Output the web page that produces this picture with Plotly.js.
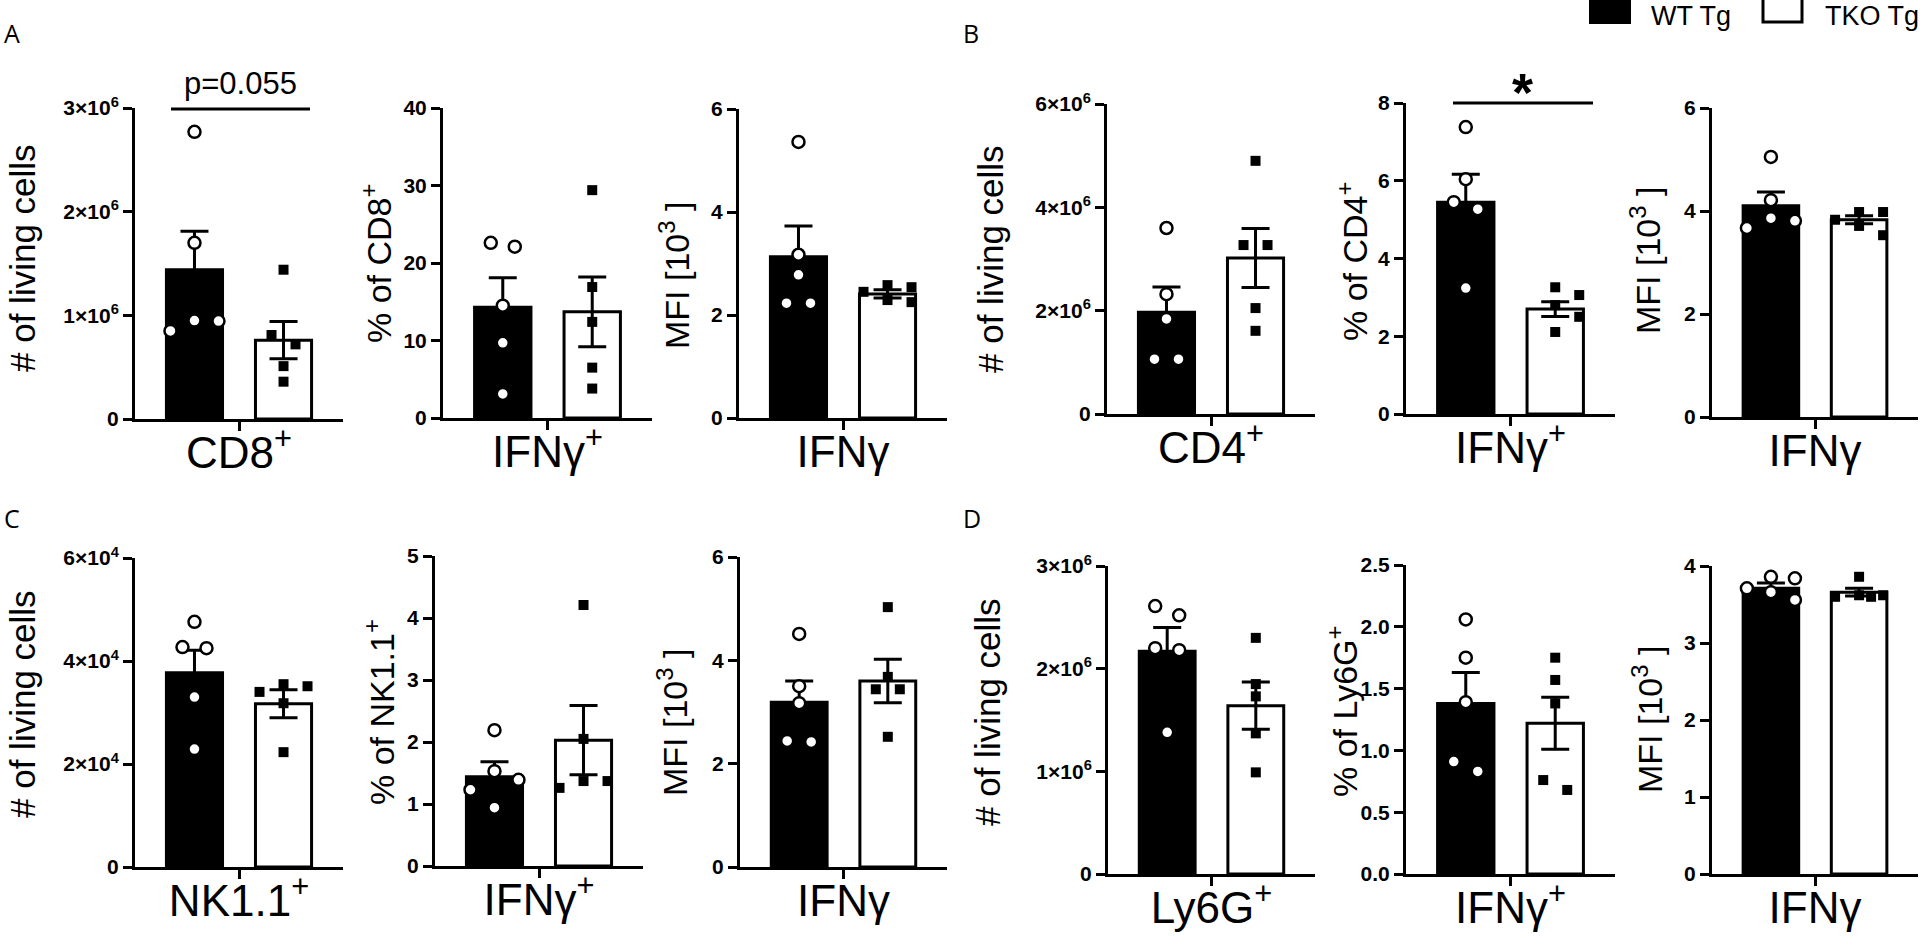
<!DOCTYPE html>
<html>
<head>
<meta charset="utf-8">
<script src="https://cdn.plot.ly/plotly-3.0.1.min.js"></script>
<style>
  html, body { margin: 0; padding: 0; background: #fff; }
  #plot { width: 1920px; height: 944px; }
</style>
</head>
<body>
<div id="plot"></div>
<script>
let W = 1920, H = 944;
let groups = ['WT Tg', 'TKO Tg'];

// ---- A: CD8+ ----
let cd8CellsWT = [2.77e6, 1.70e6, 0.95e6, 0.945e6, 0.85e6];
let cd8CellsTKO = [1.44e6, 0.81e6, 0.72e6, 0.51e6, 0.36e6];
let cd8CellsMean = [1.44e6, 0.76e6];
let cd8CellsSem = [0.37e6, 0.18e6];

let cd8IfnPctWT = [22.6, 22.1, 14.5, 9.7, 3.1];
let cd8IfnPctTKO = [29.4, 16.9, 12.4, 6.5, 3.8];
let cd8IfnPctMean = [14.3, 13.7];
let cd8IfnPctSem = [3.8, 4.5];

let cd8MfiWT = [5.36, 3.17, 2.78, 2.23, 2.23];
let cd8MfiTKO = [2.58, 2.54, 2.45, 2.29, 2.25];
let cd8MfiMean = [3.13, 2.41];
let cd8MfiSem = [0.6, 0.08];

// ---- B: CD4+ ----
let cd4CellsWT = [3.6e6, 2.32e6, 1.84e6, 1.06e6, 1.06e6];
let cd4CellsTKO = [4.9e6, 3.27e6, 3.27e6, 2.05e6, 1.61e6];
let cd4CellsMean = [1.97e6, 3.02e6];
let cd4CellsSem = [0.49e6, 0.57e6];

let cd4IfnPctWT = [7.38, 6.04, 5.45, 5.27, 3.24];
let cd4IfnPctTKO = [3.26, 3.06, 2.8, 2.5, 2.11];
let cd4IfnPctMean = [5.45, 2.7];
let cd4IfnPctSem = [0.72, 0.19];

let cd4MfiWT = [5.05, 4.21, 3.86, 3.81, 3.67];
let cd4MfiTKO = [3.98, 3.98, 3.83, 3.71, 3.53];
let cd4MfiMean = [4.1, 3.83];
let cd4MfiSem = [0.27, 0.08];

// ---- C: NK1.1+ ----
let nkCellsWT = [4.76e4, 4.27e4, 4.25e4, 3.3e4, 2.29e4];
let nkCellsTKO = [3.55e4, 3.51e4, 3.4e4, 3.18e4, 2.23e4];
let nkCellsMean = [3.77e4, 3.17e4];
let nkCellsSem = [0.44e4, 0.27e4];

let nkIfnPctWT = [2.19, 1.53, 1.39, 1.23, 0.94];
let nkIfnPctTKO = [4.21, 2.05, 1.37, 1.37, 1.26];
let nkIfnPctMean = [1.44, 2.03];
let nkIfnPctSem = [0.24, 0.56];

let nkMfiWT = [4.51, 3.5, 3.17, 2.44, 2.42];
let nkMfiTKO = [5.03, 3.68, 3.44, 3.44, 2.52];
let nkMfiMean = [3.19, 3.6];
let nkMfiSem = [0.41, 0.42];

// ---- D: Ly6G+ ----
let lyCellsWT = [2.61e6, 2.52e6, 2.2e6, 2.18e6, 1.38e6];
let lyCellsTKO = [2.3e6, 1.85e6, 1.73e6, 1.37e6, 0.99e6];
let lyCellsMean = [2.17e6, 1.64e6];
let lyCellsSem = [0.23e6, 0.23e6];

let lyIfnPctWT = [2.06, 1.75, 1.39, 0.91, 0.83];
let lyIfnPctTKO = [1.75, 1.57, 1.38, 0.76, 0.68];
let lyIfnPctMean = [1.38, 1.22];
let lyIfnPctSem = [0.25, 0.21];

let lyMfiWT = [3.86, 3.84, 3.71, 3.66, 3.56];
let lyMfiTKO = [3.86, 3.62, 3.62, 3.6, 3.6];
let lyMfiMean = [3.71, 3.66];
let lyMfiSem = [0.07, 0.05];

// tick values / labels
let ticksE6x3 = [0, 1e6, 2e6, 3e6];
let labelsE6x3 = ['0', '1×10<sup>6</sup>', '2×10<sup>6</sup>', '3×10<sup>6</sup>'];
let ticksE6x6 = [0, 2e6, 4e6, 6e6];
let labelsE6x6 = ['0', '2×10<sup>6</sup>', '4×10<sup>6</sup>', '6×10<sup>6</sup>'];
let ticksE4x6 = [0, 2e4, 4e4, 6e4];
let labelsE4x6 = ['0', '2×10<sup>4</sup>', '4×10<sup>4</sup>', '6×10<sup>4</sup>'];
let ticks40 = [0, 10, 20, 30, 40];
let ticks6 = [0, 2, 4, 6];
let ticks8 = [0, 2, 4, 6, 8];
let ticks5 = [0, 1, 2, 3, 4, 5];
let ticks2p5 = [0, 0.5, 1, 1.5, 2, 2.5];
let labels2p5 = ['0.0', '0.5', '1.0', '1.5', '2.0', '2.5'];
let ticks4 = [0, 1, 2, 3, 4];

let countTitle = '# of living cells';
let mfiTitle = 'MFI [10<sup>3</sup> ]';

// panel table: data + where each little plot sits (pixel box l, r, top, bottom; y-title centre)
let panels = [
  { wt: cd8CellsWT, tko: cd8CellsTKO, mean: cd8CellsMean, sem: cd8CellsSem, top: 3e6, tv: ticksE6x3, tt: labelsE6x3,
    xlab: 'CD8<sup>+</sup>', ytitle: countTitle, box: [135, 343, 108, 419], tpos: [22, 258] },
  { wt: cd8IfnPctWT, tko: cd8IfnPctTKO, mean: cd8IfnPctMean, sem: cd8IfnPctSem, top: 40, tv: ticks40,
    xlab: 'IFNγ<sup>+</sup>', ytitle: '% of CD8<sup>+</sup>', box: [443, 652, 108, 418], tpos: [377, 264] },
  { wt: cd8MfiWT, tko: cd8MfiTKO, mean: cd8MfiMean, sem: cd8MfiSem, top: 6, tv: ticks6,
    xlab: 'IFNγ', ytitle: mfiTitle, box: [739, 947, 109, 418], tpos: [674, 276] },
  { wt: cd4CellsWT, tko: cd4CellsTKO, mean: cd4CellsMean, sem: cd4CellsSem, top: 6e6, tv: ticksE6x6, tt: labelsE6x6,
    xlab: 'CD4<sup>+</sup>', ytitle: countTitle, box: [1107, 1315, 104, 414], tpos: [990, 259] },
  { wt: cd4IfnPctWT, tko: cd4IfnPctTKO, mean: cd4IfnPctMean, sem: cd4IfnPctSem, top: 8, tv: ticks8,
    xlab: 'IFNγ<sup>+</sup>', ytitle: '% of CD4<sup>+</sup>', box: [1406, 1615, 103, 414], tpos: [1352, 262] },
  { wt: cd4MfiWT, tko: cd4MfiTKO, mean: cd4MfiMean, sem: cd4MfiSem, top: 6, tv: ticks6,
    xlab: 'IFNγ', ytitle: mfiTitle, box: [1712, 1918, 108, 417], tpos: [1645, 261] },
  { wt: nkCellsWT, tko: nkCellsTKO, mean: nkCellsMean, sem: nkCellsSem, top: 6e4, tv: ticksE4x6, tt: labelsE4x6,
    xlab: 'NK1.1<sup>+</sup>', ytitle: countTitle, box: [135, 343, 558, 867], tpos: [22, 704] },
  { wt: nkIfnPctWT, tko: nkIfnPctTKO, mean: nkIfnPctMean, sem: nkIfnPctSem, top: 5, tv: ticks5,
    xlab: 'IFNγ<sup>+</sup>', ytitle: '% of NK1.1<sup>+</sup>', box: [435, 643, 556, 866], tpos: [379, 712] },
  { wt: nkMfiWT, tko: nkMfiTKO, mean: nkMfiMean, sem: nkMfiSem, top: 6, tv: ticks6,
    xlab: 'IFNγ', ytitle: mfiTitle, box: [740, 947, 557, 867], tpos: [672, 723] },
  { wt: lyCellsWT, tko: lyCellsTKO, mean: lyCellsMean, sem: lyCellsSem, top: 3e6, tv: ticksE6x3, tt: labelsE6x3,
    xlab: 'Ly6G<sup>+</sup>', ytitle: countTitle, box: [1108, 1315, 566, 874], tpos: [987, 712] },
  { wt: lyIfnPctWT, tko: lyIfnPctTKO, mean: lyIfnPctMean, sem: lyIfnPctSem, top: 2.5, tv: ticks2p5, tt: labels2p5,
    xlab: 'IFNγ<sup>+</sup>', ytitle: '% of Ly6G<sup>+</sup>', box: [1406, 1615, 565, 874], tpos: [1342, 712] },
  { wt: lyMfiWT, tko: lyMfiTKO, mean: lyMfiMean, sem: lyMfiSem, top: 4, tv: ticks4,
    xlab: 'IFNγ', ytitle: mfiTitle, box: [1712, 1918, 566, 874], tpos: [1647, 720] }
];

let xRange = [-0.668, 1.668];
let fontFam = '"Liberation Sans", Arial, sans-serif';

function px2x(px) { return px / W; }
function px2y(py) { return 1 - py / H; }

// simple beeswarm, like prism does: spread points that would overlap
function swarm(vals, center, ppx, ppy) {
  let d = 12, s = 24;
  let xs = vals.map(() => center);
  let order = vals.map((v, i) => i).sort((a, b) => vals[b] - vals[a]);
  let clusters = [], cur = [order[0]];
  for (let k = 1; k < order.length; k++) {
    if ((vals[order[k - 1]] - vals[order[k]]) * ppy < d) cur.push(order[k]);
    else { clusters.push(cur); cur = [order[k]]; }
  }
  clusters.push(cur);
  clusters.forEach(c => {
    if (c.length <= 3) {
      let slots = c.length == 1 ? [0] : c.length == 2 ? [-s / 2, s / 2] : [0, s, -s];
      c.forEach((idx, j) => xs[idx] = center + slots[j] / ppx);
    } else {
      // greedy, stay inside the bar; take the least crowded slot if nothing is free
      let placed = [];
      c.forEach(idx => {
        let offs = [0, s, -s, s / 2, -s / 2];
        let best = 0, bestGap = -1;
        for (let o of offs) {
          let gap = placed.reduce((m, p) => Math.min(m, Math.hypot(o - p.o, (vals[idx] - p.v) * ppy)), 1e9);
          if (gap >= d) { best = o; break; }
          if (gap > bestGap) { bestGap = gap; best = o; }
        }
        xs[idx] = center + best / ppx;
        placed.push({ o: best, v: vals[idx] });
      });
    }
  });
  return xs;
}

let data = [];
let layout = {
  width: W, height: H,
  margin: { l: 0, r: 0, t: 0, b: 0 },
  paper_bgcolor: '#fff', plot_bgcolor: 'rgba(0,0,0,0)',
  showlegend: false,
  font: { family: fontFam, color: '#000' },
  annotations: [], shapes: []
};

panels.forEach((p, i) => {
  let n = i + 1;
  let xa = 'x' + (n == 1 ? '' : n), ya = 'y' + (n == 1 ? '' : n);
  let [l, r, t, b] = p.box;
  let ppx = (r - l) / (xRange[1] - xRange[0]);
  let ppy = (b - t) / p.top;

  data.push({
    type: 'bar', x: [0, 1], y: p.mean, width: 0.63, xaxis: xa, yaxis: ya,
    marker: { color: ['#000', '#fff'], line: { color: '#000', width: 3 } },
    error_y: { type: 'data', array: p.sem, visible: true, color: '#000', thickness: 3, width: 14 },
    hoverinfo: 'y', name: ''
  });
  data.push({
    type: 'scatter', mode: 'markers', name: groups[0], xaxis: xa, yaxis: ya,
    x: swarm(p.wt, 0, ppx, ppy), y: p.wt, cliponaxis: false,
    marker: { symbol: 'circle', size: 12, color: '#fff', line: { color: '#000', width: 2.5 } }
  });
  data.push({
    type: 'scatter', mode: 'markers', name: groups[1], xaxis: xa, yaxis: ya,
    x: swarm(p.tko, 1, ppx, ppy), y: p.tko, cliponaxis: false,
    marker: { symbol: 'square', size: 10, color: '#000' }
  });

  layout['xaxis' + (n == 1 ? '' : n)] = {
    domain: [px2x(l), px2x(r)], anchor: ya, range: xRange,
    showline: true, linewidth: 3, linecolor: '#000', mirror: false,
    ticks: 'outside', ticklen: 9, tickwidth: 3, tickcolor: '#000',
    tickvals: [0.5], ticktext: [p.xlab], tickfont: { size: 44, family: fontFam },
    ticklabelstandoff: -16,
    showgrid: false, zeroline: false, fixedrange: true
  };
  layout['yaxis' + (n == 1 ? '' : n)] = {
    domain: [px2y(b), px2y(t)], anchor: xa, range: [0, p.top],
    showline: true, linewidth: 3, linecolor: '#000',
    ticks: 'outside', ticklen: 9, tickwidth: 3, tickcolor: '#000',
    tickvals: p.tv, ticktext: p.tt || p.tv.map(String),
    tickfont: { size: 21, family: fontFam, weight: 'bold' },
    showgrid: false, zeroline: false, fixedrange: true
  };
  layout.annotations.push({
    xref: 'paper', yref: 'paper', x: px2x(p.tpos[0]), y: px2y(p.tpos[1]),
    text: p.ytitle, textangle: -90, showarrow: false,
    xanchor: 'center', yanchor: 'middle', font: { size: p.ytitle == countTitle ? 35 : 34, family: fontFam }
  });
});

// panel letters
[['A', 2, 33], ['B', 961, 33], ['C', 2, 518], ['D', 961, 518]].forEach(a => {
  layout.annotations.push({
    xref: 'paper', yref: 'paper', x: px2x(a[1]), y: px2y(a[2]), text: a[0], showarrow: false,
    xanchor: 'left', yanchor: 'middle', font: { size: 25, family: '"Open Sans", sans-serif' }
  });
});

// significance bars
layout.shapes.push({ type: 'line', xref: 'paper', yref: 'paper',
  x0: px2x(171), x1: px2x(310), y0: px2y(109), y1: px2y(109), line: { color: '#000', width: 3 } });
layout.annotations.push({ xref: 'paper', yref: 'paper', x: px2x(240), y: px2y(84), text: 'p=0.055',
  showarrow: false, xanchor: 'center', yanchor: 'middle', font: { size: 31, family: fontFam } });
layout.shapes.push({ type: 'line', xref: 'paper', yref: 'paper',
  x0: px2x(1453), x1: px2x(1593), y0: px2y(103), y1: px2y(103), line: { color: '#000', width: 3 } });
layout.annotations.push({ xref: 'paper', yref: 'paper', x: px2x(1522), y: px2y(92), text: '<b>*</b>',
  showarrow: false, xanchor: 'center', yanchor: 'middle', font: { size: 54, family: fontFam } });

// legend (drawn by hand, the plotly one has tiny swatches)
layout.shapes.push({ type: 'rect', xref: 'paper', yref: 'paper',
  x0: px2x(1589), x1: px2x(1631), y0: px2y(24), y1: px2y(-4), fillcolor: '#000', line: { width: 0 } });
layout.shapes.push({ type: 'rect', xref: 'paper', yref: 'paper',
  x0: px2x(1763), x1: px2x(1802), y0: px2y(22), y1: px2y(-4), fillcolor: '#fff', line: { color: '#000', width: 3 } });
layout.annotations.push({ xref: 'paper', yref: 'paper', x: px2x(1650), y: 1, text: groups[0],
  showarrow: false, xanchor: 'left', yanchor: 'top', borderpad: 0, font: { size: 27, family: fontFam } });
layout.annotations.push({ xref: 'paper', yref: 'paper', x: 1, y: 1, text: groups[1],
  showarrow: false, xanchor: 'right', yanchor: 'top', borderpad: 0, font: { size: 27, family: fontFam } });

Plotly.newPlot('plot', data, layout, { displayModeBar: false, staticPlot: true });
</script>
</body>
</html>
